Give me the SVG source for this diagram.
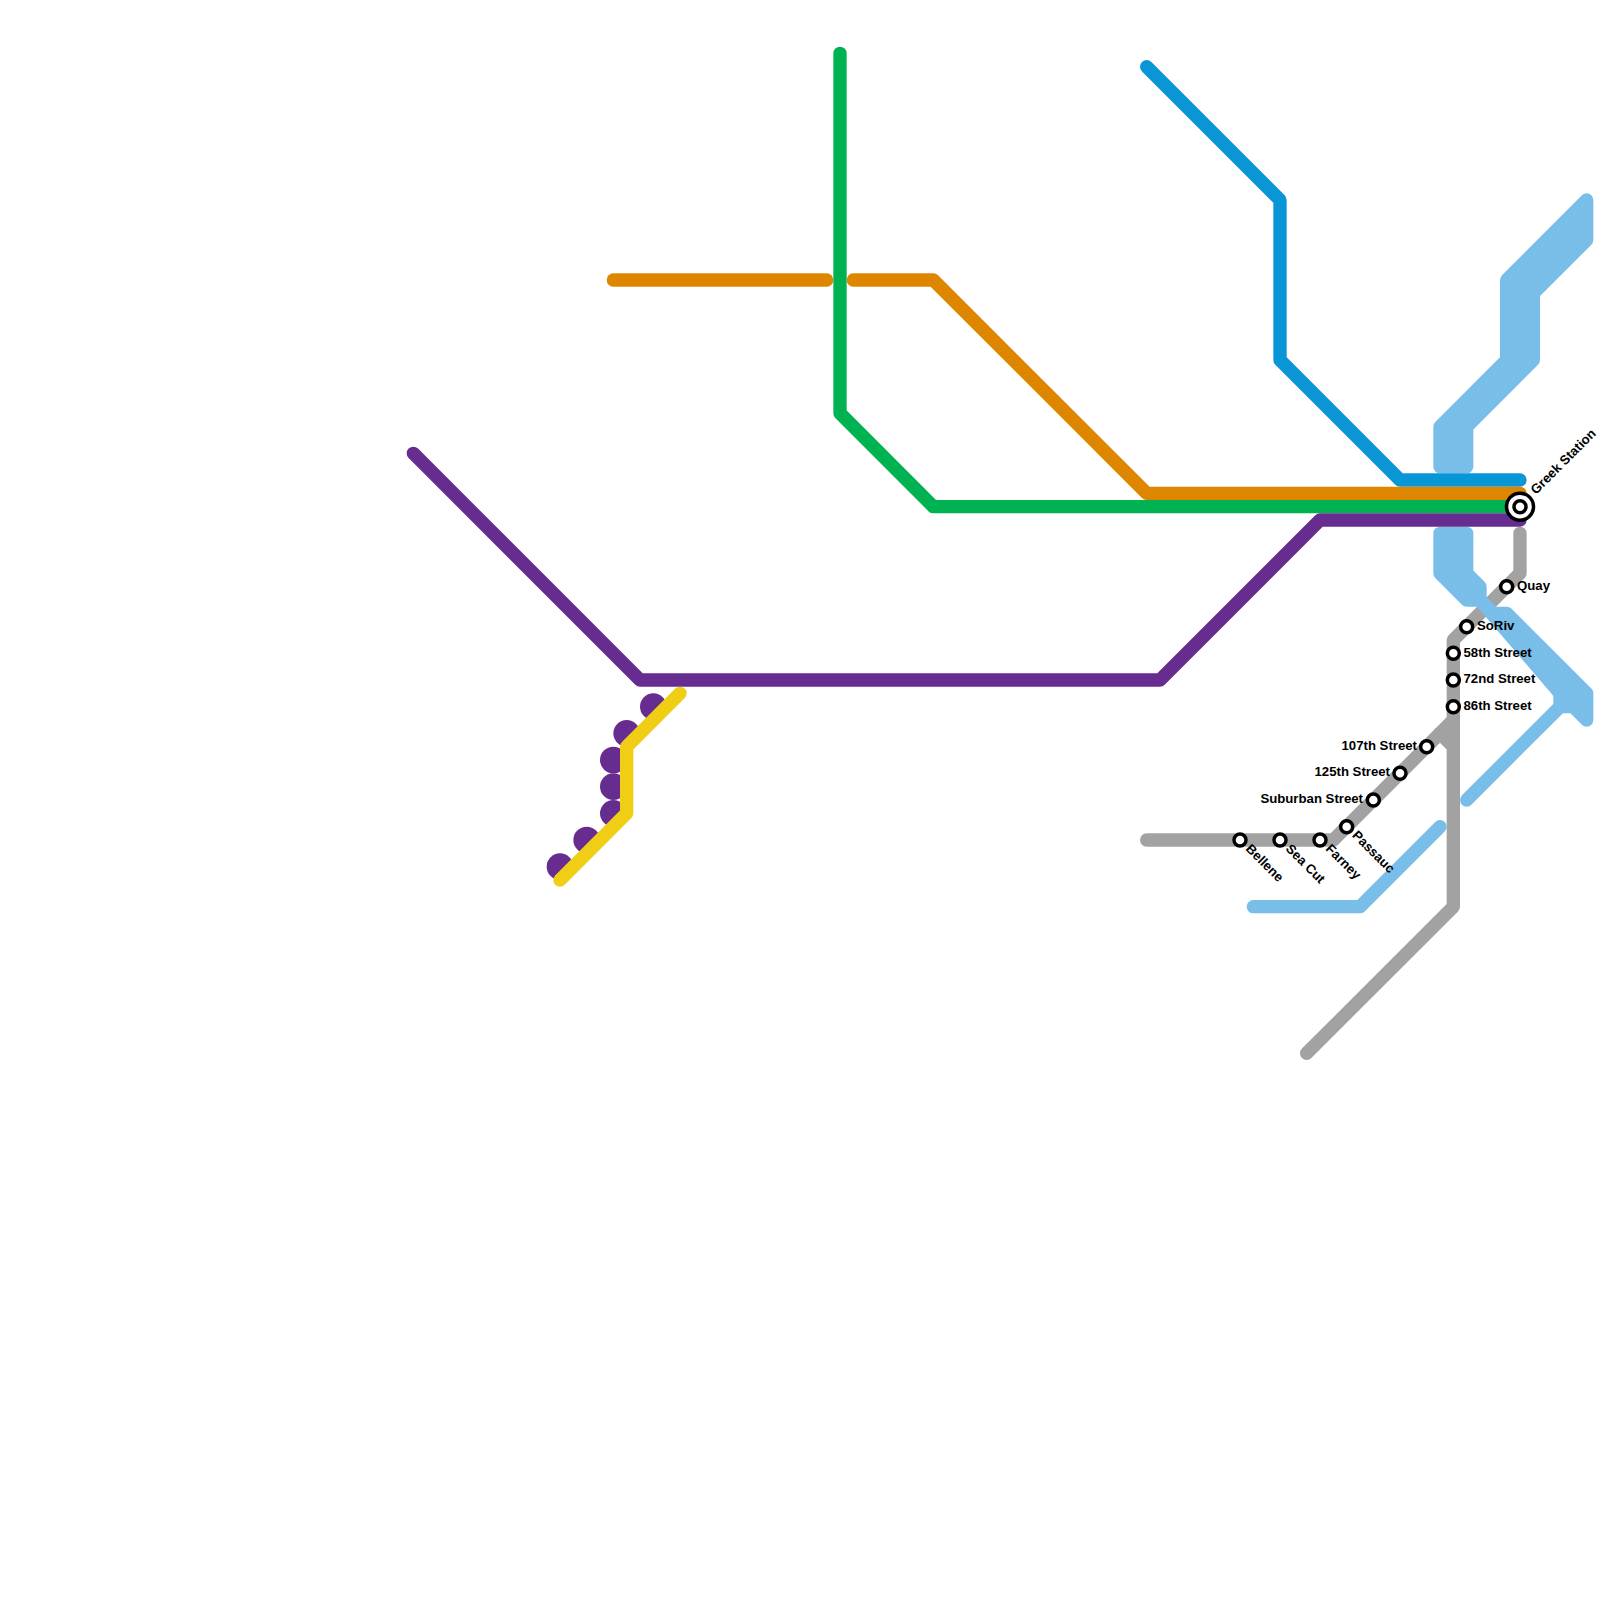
<svg xmlns="http://www.w3.org/2000/svg" width="1600" height="1600" viewBox="0 0 1600 1600">
<style>
.l{fill:none;stroke-width:13.33;stroke-linecap:round;stroke-linejoin:round}
.f{stroke-width:13.33;stroke-linecap:round;stroke-linejoin:round}
.g{stroke:#a2a2a2}.o{stroke:#df8600}.n{stroke:#00b251}.p{stroke:#662c90}.b{stroke:#0896d7}.s{stroke:#79bde9}.y{stroke:#f0ce15}
.st{fill:#fff;stroke:#000;stroke-width:3.5}
text{font-family:"Liberation Sans",Arial,sans-serif;font-size:13.2px;font-weight:700;fill:#000}
.e{text-anchor:end}
</style>
<rect width="1600" height="1600" fill="#fff"/>
<g id="connectors">
<path class="l g" d="M1520 533.33V573.33L1453.33 640V906.67L1306.67 1053.33"/>
<path class="l g" d="M1146.67 840H1333.33L1453.33 720"/>
<path class="l g" d="M1440 733.33L1453.33 746.67"/>
<path class="l s" d="M1253.33 906.67H1360L1440 826.67"/>
<path class="l s" d="M1466.67 800L1560 706.67"/>
<path class="f s" fill="#79bde9" d="M1440 426.67L1506.67 360V280L1586.67 200V240L1533.33 293.33V360L1466.67 426.67V466.67H1440Z"/>
<path class="f s" fill="#79bde9" d="M1440 533.33H1466.67V573.33L1480 586.67V600L1493.33 613.33H1506.67L1586.67 693.33V720L1573.33 706.67H1560V693.33L1480 600H1466.67L1440 573.33Z"/>
<path class="l b" d="M1146.67 66.67L1280 200V360L1400 480H1520"/>
<path class="l o" d="M613.33 280H826.67"/>
<path class="l o" d="M853.33 280H933.33L1146.67 493.33H1520"/>
<path class="l n" d="M840 53.33V413.33L933.33 506.67H1520"/>
<path class="l p" d="M413.33 453.33L640 680H1160L1320 520H1520"/>
<g fill="#662c90">
<circle cx="560" cy="866.67" r="13.33"/><circle cx="586.67" cy="840" r="13.33"/><circle cx="613.33" cy="813.33" r="13.33"/><circle cx="613.33" cy="786.67" r="13.33"/><circle cx="613.33" cy="760" r="13.33"/><circle cx="626.67" cy="733.33" r="13.33"/><circle cx="653.33" cy="706.67" r="13.33"/>
</g>
<path class="l y" d="M560 880L626.67 813.33V746.67L680 693.33"/>
</g>
<g id="greek-station"><circle cx="1520" cy="506.67" r="13.5" fill="#fff" stroke="#000" stroke-width="3.5"/><circle class="st" cx="1520" cy="506.67" r="6"/><text transform="translate(1536 495) rotate(-45)">Greek Station</text></g>
<g id="quay"><circle class="st" cx="1506.67" cy="586.67" r="6"/><text x="1517" y="590">Quay</text></g>
<g id="soriv"><circle class="st" cx="1466.67" cy="626.67" r="6"/><text x="1477" y="630">SoRiv</text></g>
<g id="s58"><circle class="st" cx="1453.33" cy="653.33" r="6"/><text x="1463.5" y="656.5">58th Street</text></g>
<g id="s72"><circle class="st" cx="1453.33" cy="680" r="6"/><text x="1463.5" y="683">72nd Street</text></g>
<g id="s86"><circle class="st" cx="1453.33" cy="706.67" r="6"/><text x="1463.5" y="710">86th Street</text></g>
<g id="s107"><circle class="st" cx="1426.67" cy="746.67" r="6"/><text class="e" x="1417" y="749.5">107th Street</text></g>
<g id="s125"><circle class="st" cx="1400" cy="773.33" r="6"/><text class="e" x="1390" y="776">125th Street</text></g>
<g id="suburban"><circle class="st" cx="1373.33" cy="800" r="6"/><text class="e" x="1363" y="803">Suburban Street</text></g>
<g id="passauc"><circle class="st" cx="1346.67" cy="826.67" r="6"/><text transform="translate(1351.5 836) rotate(45)">Passauc</text></g>
<g id="farney"><circle class="st" cx="1320" cy="840" r="6"/><text transform="translate(1325 849.5) rotate(45)">Farney</text></g>
<g id="sea-cut"><circle class="st" cx="1280" cy="840" r="6"/><text transform="translate(1285 849.5) rotate(45)">Sea Cut</text></g>
<g id="bellene"><circle class="st" cx="1240" cy="840" r="6"/><text transform="translate(1245 849.5) rotate(45)">Bellene</text></g>
</svg>
